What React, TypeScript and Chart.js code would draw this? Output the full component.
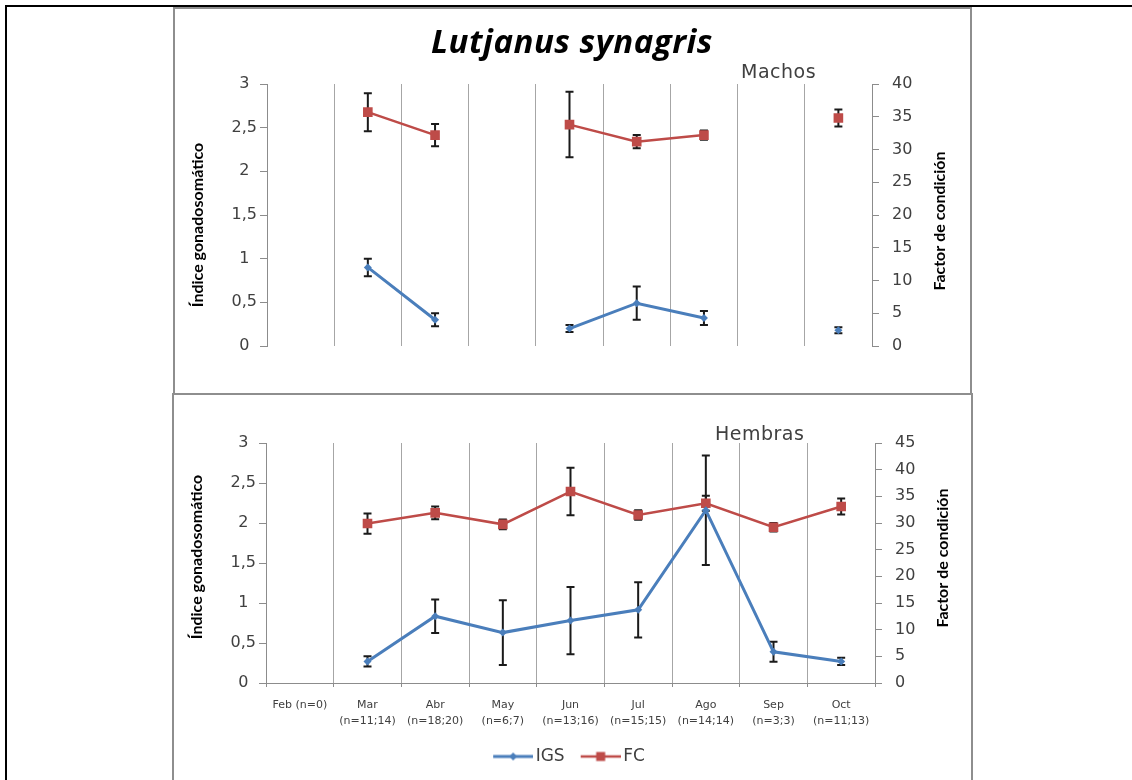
import React, { useEffect, useRef } from "react";
import { Chart, registerables } from "chart.js";

Chart.register(...registerables);

// ---------- data ----------
const months = ["Feb", "Mar", "Abr", "May", "Jun", "Jul", "Ago", "Sep", "Oct"];
const sampleSizes = ["(n=0)", "(n=11;14)", "(n=18;20)", "(n=6;7)", "(n=13;16)", "(n=15;15)", "(n=14;14)", "(n=3;3)", "(n=11;13)"];

const igsTickLabels = ["0", "0,5", "1", "1,5", "2", "2,5", "3"];
const fcTickLabelsMachos = ["0", "5", "10", "15", "20", "25", "30", "35", "40"];
const fcTickLabelsHembras = ["0", "5", "10", "15", "20", "25", "30", "35", "40", "45"];

const machosIGS = [null, 0.9, 0.3, null, 0.2, 0.49, 0.32, null, 0.18];
const machosIGSErr = [null, 0.1, 0.075, null, 0.04, 0.19, 0.08, null, 0.035];
const machosFC = [null, 35.7, 32.2, null, 33.8, 31.2, 32.2, null, 34.8];
const machosFCErr = [null, 2.9, 1.7, null, 5.0, 1.0, 0.7, null, 1.3];

const hembrasIGS = [null, 0.27, 0.835, 0.63, 0.78, 0.915, 2.16, 0.39, 0.27];
const hembrasIGSErr = [null, 0.065, 0.21, 0.405, 0.42, 0.345, 0.685, 0.125, 0.045];
const hembrasFC = [null, 29.9, 31.9, 29.75, 35.9, 31.5, 33.7, 29.2, 33.1];
const hembrasFCErr = [null, 1.9, 1.2, 0.9, 4.45, 0.9, 1.4, 0.8, 1.5];

const xLabels = months.map((m, i) => (sampleSizes[i] === "(n=0)" ? `${m} ${sampleSizes[i]}` : [m, sampleSizes[i]]));

// ---------- styles ----------
const BLUE = "#4A7EBB";
const RED = "#BE4B48";
const GRID = "#a6a6a6";
const AXIS = "#8c8c8c";
const TICK_TEXT = "#404040";
const TICK_FONT = { family: "DejaVu Sans", size: 16 };

function makeIcon(color: string, kind: "diamond" | "square") {
  const c = document.createElement("canvas");
  c.width = 52;
  c.height = 14;
  const g = c.getContext("2d")!;
  g.strokeStyle = color;
  g.lineWidth = kind === "diamond" ? 3 : 2.5;
  g.beginPath();
  g.moveTo(12, 7);
  g.lineTo(52, 7);
  g.stroke();
  g.fillStyle = color;
  if (kind === "square") {
    g.fillRect(32 - 4.5, 7 - 4.5, 9, 9);
  } else {
    g.beginPath();
    g.moveTo(32, 3);
    g.lineTo(36, 7);
    g.lineTo(32, 11);
    g.lineTo(28, 7);
    g.closePath();
    g.fill();
  }
  return c;
}

const errorBarPlugin = {
  id: "errorBars",
  beforeDatasetsDraw(chart: any) {
    const ctx = chart.ctx;
    const xScale = chart.scales.x;
    chart.data.datasets.forEach((ds: any) => {
      const errs = ds.errorBars;
      if (!errs) return;
      const yScale = chart.scales[ds.yAxisID];
      ds.data.forEach((v: number | null, j: number) => {
        const e = errs[j];
        if (v == null || e == null) return;
        const x = xScale.getPixelForValue(j);
        const yTop = yScale.getPixelForValue(v + e);
        const yBot = yScale.getPixelForValue(v - e);
        ctx.save();
        ctx.strokeStyle = "#1a1a1a";
        ctx.lineWidth = 2;
        ctx.beginPath();
        ctx.moveTo(x, yTop);
        ctx.lineTo(x, yBot);
        ctx.moveTo(x - 4, yTop);
        ctx.lineTo(x + 4, yTop);
        ctx.moveTo(x - 4, yBot);
        ctx.lineTo(x + 4, yBot);
        ctx.stroke();
        ctx.restore();
      });
    });
  },
};

const axisTitlePlugin = {
  id: "axisTitles",
  afterDraw(chart: any, _args: any, opts: any) {
    const { ctx, chartArea } = chart;
    const cy = (chartArea.top + chartArea.bottom) / 2;
    const items = [
      [opts.leftText, chartArea.left - opts.leftGap, cy + opts.leftDy],
      [opts.rightText, chartArea.right + opts.rightGap, cy + opts.rightDy],
    ];
    ctx.save();
    ctx.font = "bold 16px Lato";
    ctx.fillStyle = "#000";
    ctx.textAlign = "center";
    ctx.textBaseline = "middle";
    items.forEach(([t, x, y]) => {
      ctx.save();
      ctx.translate(x, y);
      ctx.rotate(-Math.PI / 2);
      ctx.fillText(t, 0, 0);
      ctx.restore();
    });
    ctx.restore();
  },
};

type PanelProps = {
  igs: (number | null)[];
  igsErr: (number | null)[];
  fc: (number | null)[];
  fcErr: (number | null)[];
  fcMax: number;
  fcTicks: string[];
  showX: boolean;
  padding: { left: number; right: number; top: number; bottom: number };
  yWidth: number;
  y1Width: number;
  xHeight: number;
  titleDy: [number, number];
};

function buildConfig(p: PanelProps): any {
  const icons = [makeIcon(BLUE, "diamond"), makeIcon(RED, "square")];
  return {
    type: "line",
    data: {
      labels: xLabels,
      datasets: [
        {
          label: "IGS",
          data: p.igs,
          errorBars: p.igsErr,
          yAxisID: "y",
          borderColor: BLUE,
          backgroundColor: BLUE,
          borderWidth: 3,
          pointStyle: "rectRot",
          pointRadius: 4,
          pointBorderWidth: 0,
          spanGaps: false,
        },
        {
          label: "FC",
          data: p.fc,
          errorBars: p.fcErr,
          yAxisID: "y1",
          borderColor: RED,
          backgroundColor: RED,
          borderWidth: 2.5,
          pointStyle: "rect",
          pointRadius: 6.8,
          pointBorderWidth: 0,
          spanGaps: false,
        },
      ],
    },
    options: {
      responsive: false,
      animation: false,
      devicePixelRatio: 1,
      events: [],
      layout: { padding: p.padding },
      plugins: {
        tooltip: { enabled: false },
        legend: {
          display: p.showX,
          position: "bottom",
          labels: {
            usePointStyle: true,
            pointStyleWidth: 40,
            padding: 10,
            color: TICK_TEXT,
            font: { family: "DejaVu Sans", size: 17 },
            generateLabels: (chart: any) =>
              chart.data.datasets.map((ds: any, i: number) => ({
                text: ds.label,
                pointStyle: icons[i],
                fillStyle: ds.borderColor,
                strokeStyle: ds.borderColor,
                lineWidth: 0,
                hidden: false,
                datasetIndex: i,
                fontColor: TICK_TEXT,
              })),
          },
        },
        axisTitles: {
          leftText: "Índice gonadosomático",
          rightText: "Factor de condición",
          leftGap: 69,
          rightGap: 68,
          leftDy: p.titleDy[0],
          rightDy: p.titleDy[1],
        },
      },
      scales: {
        x: {
          type: "category",
          offset: true,
          grid: {
            offset: true,
            color: GRID,
            lineWidth: 1,
            drawTicks: p.showX,
            tickLength: 4,
            tickColor: AXIS,
          },
          border: { display: p.showX, color: AXIS, width: 1 },
          ticks: {
            display: p.showX,
            autoSkip: false,
            maxRotation: 0,
            minRotation: 0,
            padding: 10,
            color: TICK_TEXT,
            font: { family: "DejaVu Sans", size: 11, lineHeight: 1.45 },
          },
          afterFit: (s: any) => {
            s.height = p.xHeight;
          },
        },
        y: {
          position: "left",
          min: 0,
          max: 3,
          grid: { drawOnChartArea: false, tickLength: 7, color: AXIS },
          border: { color: AXIS, width: 1 },
          ticks: {
            stepSize: 0.5,
            padding: 3,
            crossAlign: "center",
            color: TICK_TEXT,
            font: TICK_FONT,
            callback: (_v: any, i: number) => igsTickLabels[i],
          },
          afterFit: (s: any) => {
            s.width = p.yWidth;
          },
        },
        y1: {
          position: "right",
          min: 0,
          max: p.fcMax,
          grid: { drawOnChartArea: false, tickLength: 7, color: AXIS },
          border: { color: AXIS, width: 1 },
          ticks: {
            stepSize: 5,
            padding: 13,
            color: TICK_TEXT,
            font: TICK_FONT,
            callback: (_v: any, i: number) => p.fcTicks[i],
          },
          afterFit: (s: any) => {
            s.width = p.y1Width;
          },
        },
      },
    },
    plugins: [errorBarPlugin, axisTitlePlugin],
  };
}

function Panel(props: PanelProps & { top: number; height: number }) {
  const ref = useRef<HTMLCanvasElement | null>(null);
  useEffect(() => {
    if (!ref.current) return;
    const chart = new Chart(ref.current, buildConfig(props));
    return () => chart.destroy();
  }, []);
  return (
    <canvas
      ref={ref}
      width={1132}
      height={props.height}
      style={{ position: "absolute", left: 0, top: props.top, width: 1132, height: props.height }}
    />
  );
}

export default function App() {
  return (
    <div
      style={{
        position: "absolute",
        left: 0,
        top: 0,
        width: 1132,
        height: 780,
        overflow: "hidden",
        background: "#fff",
      }}
    >
      {/* table borders */}
      <div style={{ position: "absolute", left: 5, top: 5, width: 1127, height: 2, background: "#000" }} />
      <div style={{ position: "absolute", left: 5, top: 5, width: 2, height: 775, background: "#000" }} />
      {/* chart frames */}
      <div
        style={{
          position: "absolute",
          left: 173,
          top: 7,
          width: 799,
          height: 388,
          border: "2px solid #8e8e8e",
          boxSizing: "border-box",
        }}
      />
      <div
        style={{
          position: "absolute",
          left: 172,
          top: 393,
          width: 801,
          height: 400,
          border: "2px solid #8e8e8e",
          boxSizing: "border-box",
        }}
      />
      <Panel
        top={0}
        height={394}
        igs={machosIGS}
        igsErr={machosIGSErr}
        fc={machosFC}
        fcErr={machosFCErr}
        fcMax={40}
        fcTicks={fcTickLabelsMachos}
        showX={false}
        padding={{ left: 0, right: 0, top: 84, bottom: 48 }}
        yWidth={267}
        y1Width={260}
        xHeight={0}
        titleDy={[10, 6]}
      />
      <Panel
        top={394}
        height={386}
        igs={hembrasIGS}
        igsErr={hembrasIGSErr}
        fc={hembrasFC}
        fcErr={hembrasFCErr}
        fcMax={45}
        fcTicks={fcTickLabelsHembras}
        showX={true}
        padding={{ left: 0, right: 0, top: 49, bottom: 5 }}
        yWidth={266}
        y1Width={257}
        xHeight={55}
        titleDy={[-6, -5]}
      />
      <div
        style={{
          position: "absolute",
          left: 272,
          top: 21,
          width: 600,
          textAlign: "center",
          fontFamily: "'Open Sans'",
          fontWeight: 700,
          fontStyle: "italic",
          fontSize: 33,
          letterSpacing: "0.5px",
          lineHeight: "40px",
          color: "#000",
        }}
      >
        Lutjanus synagris
      </div>
      <div
        style={{
          position: "absolute",
          left: 741,
          top: 61,
          fontFamily: "'DejaVu Sans'",
          fontSize: 19,
          letterSpacing: "0.5px",
          lineHeight: "21px",
          color: TICK_TEXT,
        }}
      >
        Machos
      </div>
      <div
        style={{
          position: "absolute",
          left: 715,
          top: 423,
          fontFamily: "'DejaVu Sans'",
          fontSize: 19,
          letterSpacing: "0.5px",
          lineHeight: "21px",
          color: TICK_TEXT,
        }}
      >
        Hembras
      </div>
    </div>
  );
}
